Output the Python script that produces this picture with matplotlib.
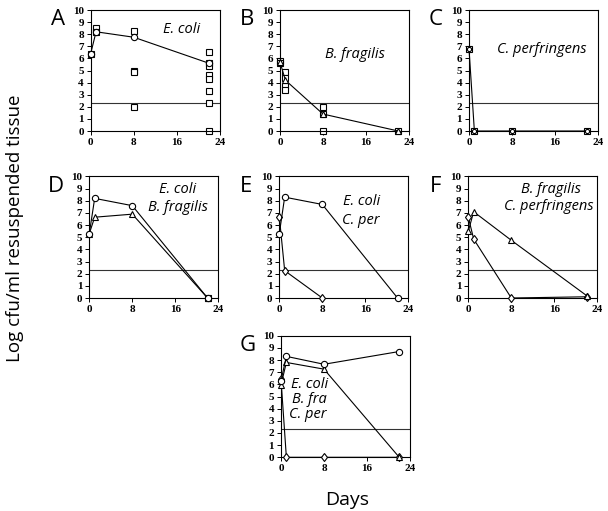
import matplotlib
matplotlib.use("Agg")
import matplotlib.pyplot as plt

# ---------------- data ----------------
days = [0, 1, 8, 22]
detection_limit = 2.3

# Panel A: E. coli
A_mean = [6.4, 8.2, 7.75, 5.6]
A_ind_x = [0, 1, 1, 8, 8, 8, 8, 22, 22, 22, 22, 22, 22, 22, 22]
A_ind_y = [6.4, 8.5, 8.15, 8.3, 4.95, 4.85, 2.0, 6.5, 5.6, 5.4, 4.6, 4.3, 3.3, 2.3, 0.0]

# Panel B: B. fragilis
B_mean = [5.7, 4.2, 1.4, 0.0]
B_ind_x = [0, 0, 1, 1, 1, 1, 8, 8, 8, 22]
B_ind_y = [5.75, 5.6, 4.85, 4.4, 3.7, 3.4, 1.95, 1.4, 0.0, 0.0]

# Panel C: C. perfringens
C_mean = [6.8, 0.0, 0.0, 0.0]

# Panel D: E. coli + B. fragilis
D_ecoli = [5.3, 8.2, 7.6, 0.0]
D_bfrag = [5.3, 6.65, 6.9, 0.0]

# Panel E: E. coli + C. perfringens
E_ecoli = [5.3, 8.3, 7.7, 0.0]
E_cper_days = [0, 1, 8]
E_cper = [6.7, 2.25, 0.0]

# Panel F: B. fragilis + C. perfringens
F_bfrag = [5.5, 7.1, 4.75, 0.2]
F_cper = [6.65, 4.85, 0.0, 0.1]

# Panel G: E. coli + B. fragilis + C. perfringens
G_ecoli = [6.3, 8.3, 7.65, 8.7]
G_bfrag = [5.95, 7.8, 7.25, 0.0]
G_cper = [6.4, 0.0, 0.0, 0.0]

x_ticks = [0, 8, 16, 24]
y_ticks = list(range(0, 11))

# ---------------- style ----------------
W, H = 608, 511
fig = plt.figure(figsize=(W / 100, H / 100), dpi=100)

serif = "Liberation Serif"
sans = "Open Sans"
lw = 0.8
ms = 4.5


def make_ax(left_px, top_px, bottom_px, width_px=129):
    ax = fig.add_axes([left_px / W, 1 - bottom_px / H, width_px / W, (bottom_px - top_px) / H])
    ax.set_xlim(0, 24)
    ax.set_ylim(0, 10)
    ax.set_xticks(x_ticks)
    ax.set_yticks(y_ticks)
    ax.tick_params(direction="out", length=3, width=0.7, pad=2, labelsize=8)
    for lab in ax.get_xticklabels() + ax.get_yticklabels():
        lab.set_fontfamily(serif)
        lab.set_fontweight("bold")
    for s in ax.spines.values():
        s.set_linewidth(lw)
    ax.axhline(detection_limit, color="#333333", lw=lw, zorder=1)
    return ax


def line(ax, x, y, marker, msize=ms):
    ax.plot(x, y, color="black", lw=lw, marker=marker, ms=msize, mfc="white",
            mec="black", mew=0.8, clip_on=False, zorder=3)


def pts(ax, x, y, marker, msize=ms):
    ax.plot(x, y, ls="none", marker=marker, ms=msize, mfc="white",
            mec="black", mew=0.8, clip_on=False, zorder=2)


def label(ax, s):
    ax.text(-33 / 129, 0.92, s, transform=ax.transAxes, ha="center", va="center",
            fontsize=16, family=sans)


def species(ax, x, y, s, size=10.5):
    ax.text(x, y, s, ha="center", va="center", style="italic", fontsize=size, family=sans)


row1 = (10, 131)
row2 = (176.5, 298)
row3 = (335.7, 457.3)

# A
axA = make_ax(90.7, *row1)
pts(axA, A_ind_x, A_ind_y, "s")
line(axA, days, A_mean, "o")
species(axA, 16.9, 8.4, "E. coli")
label(axA, "A")

# B
axB = make_ax(280, *row1)
pts(axB, B_ind_x, B_ind_y, "s")
line(axB, days, B_mean, "^")
species(axB, 14.0, 6.3, "B. fragilis")
label(axB, "B")

# C
axC = make_ax(469, *row1)
pts(axC, days, C_mean, "s")
line(axC, days, C_mean, "o", msize=3)
species(axC, 13.6, 6.7, "C. perfringens")
label(axC, "C")

# D
axD = make_ax(89.3, *row2)
line(axD, days, D_bfrag, "^")
line(axD, days, D_ecoli, "o")
pts(axD, [22], [0.0], "s")
species(axD, 16.5, 8.95, "E. coli")
species(axD, 16.5, 7.45, "B. fragilis")
label(axD, "D")

# E
axE = make_ax(279.3, *row2)
line(axE, E_cper_days, E_cper, "d")
line(axE, days, E_ecoli, "o")
species(axE, 15.3, 7.95, "E. coli")
species(axE, 15.2, 6.35, "C. per")
label(axE, "E")

# F
axF = make_ax(468.3, *row2)
line(axF, days, F_cper, "d")
line(axF, days, F_bfrag, "^")
species(axF, 15.3, 8.9, "B. fragilis")
species(axF, 14.9, 7.5, "C. perfringens")
label(axF, "F")

# G
axG = make_ax(281, *row3)
line(axG, days, G_cper, "d")
line(axG, days, G_bfrag, "^")
line(axG, days, G_ecoli, "o")
species(axG, 5.4, 5.95, "E. coli")
species(axG, 5.2, 4.75, "B. fra")
species(axG, 4.9, 3.5, "C. per")
label(axG, "G")

fig.text(15 / W, 1 - 228 / H, "Log cfu/ml resuspended tissue", rotation=90,
         ha="center", va="center", fontsize=13.5, family=sans)
fig.text(346.7 / W, 1 - 500 / H, "Days", ha="center", va="center", fontsize=14, family=sans)

fig.savefig("out.png", dpi=100)
